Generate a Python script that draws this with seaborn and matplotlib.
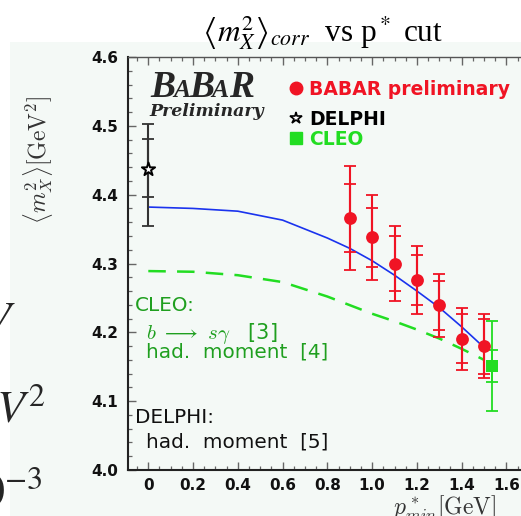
import matplotlib
matplotlib.use("Agg")
import matplotlib.pyplot as plt
import seaborn as sns
from matplotlib.patches import Rectangle
from matplotlib.lines import Line2D

# ---- measurements -------------------------------------------------------
# BABAR preliminary: corrected <m_X^2> versus minimum lepton momentum cut
babar_pcut = [0.9, 1.0, 1.1, 1.2, 1.3, 1.4, 1.5]
babar_mx2 = [4.366, 4.338, 4.300, 4.276, 4.239, 4.191, 4.180]
babar_err_stat = [0.050, 0.043, 0.040, 0.037, 0.035, 0.036, 0.040]
babar_err_tot = [0.075, 0.062, 0.054, 0.050, 0.046, 0.045, 0.046]

# DELPHI hadronic moment (asymmetric errors)
delphi_pcut = [0.0]
delphi_mx2 = [4.438]
delphi_err_stat_lo = [0.041]
delphi_err_stat_hi = [0.043]
delphi_err_tot_lo = [0.084]
delphi_err_tot_hi = [0.065]

# CLEO hadronic moment
cleo_pcut = [1.535]
cleo_mx2 = [4.151]
cleo_err_stat = [0.023]
cleo_err_tot = [0.066]

# HQE prediction from the fit (solid) and from CLEO b->s gamma + moments (dashed)
fit_pcut = [0.0, 0.2, 0.4, 0.6, 0.7, 0.8, 0.9, 1.0, 1.1, 1.2, 1.3, 1.4, 1.5]
fit_mx2 = [4.382, 4.380, 4.376, 4.363, 4.350, 4.337, 4.322, 4.304, 4.283,
           4.260, 4.236, 4.208, 4.178]
cleo_curve_pcut = [0.0, 0.2, 0.4, 0.6, 0.8, 1.0, 1.1, 1.2, 1.3, 1.4, 1.5]
cleo_curve_mx2 = [4.289, 4.288, 4.283, 4.273, 4.252, 4.227, 4.216, 4.204,
                  4.191, 4.176, 4.160]

x_ticks = [0.0, 0.2, 0.4, 0.6, 0.8, 1.0, 1.2, 1.4, 1.6]
x_tick_labels = ["0", "0.2", "0.4", "0.6", "0.8", "1.0", "1.2", "1.4", "1.6"]
y_ticks = [4.0, 4.1, 4.2, 4.3, 4.4, 4.5, 4.6]
y_tick_labels = ["4.0", "4.1", "4.2", "4.3", "4.4", "4.5", "4.6"]

# ---- style --------------------------------------------------------------
sns.set_style("ticks")
plt.rcParams["font.family"] = ["DejaVu Sans"]

RED = "#f01424"
GREEN = "#22dd22"
TEXT_GREEN = "#1f9f1f"
BLUE = "#1a33ee"
PANEL = "#f4f9f6"

W, H = 521, 516
fig = plt.figure(figsize=(W / 100, H / 100), dpi=100, facecolor="white")


def fx(px):
    return px / W


def fy(py):
    return 1 - py / H


# light slide panel behind the plot
fig.patches.append(Rectangle((fx(10), 0), 1, fy(42), transform=fig.transFigure,
                             facecolor=PANEL, edgecolor="none", zorder=-10))

ax = fig.add_axes([fx(128), fy(470), 1 - fx(128), fy(57) - fy(470)])
ax.set_facecolor("none")

# curves
sns.lineplot(x=fit_pcut, y=fit_mx2, ax=ax, color=BLUE, linewidth=1.2,
             sort=False, estimator=None, zorder=2)
sns.lineplot(x=cleo_curve_pcut, y=cleo_curve_mx2, ax=ax, color=GREEN,
             linewidth=1.8, linestyle=(0, (7, 4.5)), sort=False,
             estimator=None, zorder=2)

# error bars (outer: total, inner caps: statistical)
for err in (babar_err_tot, babar_err_stat):
    ax.errorbar(babar_pcut, babar_mx2, yerr=err, fmt="none", ecolor=RED,
                elinewidth=1.5, capsize=4, capthick=1.3, zorder=3)
for lo, hi in ((delphi_err_tot_lo, delphi_err_tot_hi),
               (delphi_err_stat_lo, delphi_err_stat_hi)):
    ax.errorbar(delphi_pcut, delphi_mx2, yerr=[lo, hi], fmt="none",
                ecolor="#333333", elinewidth=1.5, capsize=4, capthick=1.3,
                zorder=3)
for err in (cleo_err_tot, cleo_err_stat):
    ax.errorbar(cleo_pcut, cleo_mx2, yerr=err, fmt="none", ecolor=GREEN,
                elinewidth=1.3, capsize=4, capthick=1.3, zorder=3)

# markers
sns.scatterplot(x=babar_pcut, y=babar_mx2, ax=ax, color=RED, s=85,
                marker="o", linewidth=0, zorder=4)
sns.scatterplot(x=cleo_pcut, y=cleo_mx2, ax=ax, color=GREEN, s=80,
                marker="s", linewidth=0, zorder=4)
sns.scatterplot(x=delphi_pcut, y=delphi_mx2, ax=ax, color="white", s=100,
                marker="*", edgecolor="black", linewidth=1.4, zorder=4)

# axes
ax.set_xlim(-0.0907, 1.665)
ax.set_ylim(4.0, 4.6)
ax.set_xticks(x_ticks)
ax.set_xticklabels(x_tick_labels)
ax.set_yticks(y_ticks)
ax.set_yticklabels(y_tick_labels)
ax.set_xticks([v / 100 for v in range(-5, 166, 5)], minor=True)
ax.set_yticks([4.0 + v / 100 for v in range(0, 61, 2)], minor=True)
ax.tick_params(which="both", direction="in", top=True, right=False,
               color="#666666")
ax.tick_params(which="major", length=6, width=1)
ax.tick_params(which="minor", length=3, width=0.9)
ax.tick_params(axis="y", which="major", pad=7)
ax.tick_params(axis="x", which="major", pad=6)
for lab in ax.get_xticklabels() + ax.get_yticklabels():
    lab.set_fontweight("bold")
    lab.set_fontsize(11)
    lab.set_color("#111111")
for side in ("left", "bottom"):
    ax.spines[side].set_color("#222222")
    ax.spines[side].set_linewidth(1.5)
ax.spines["top"].set_color("#555555")
ax.spines["top"].set_linewidth(1)
ax.spines["right"].set_visible(False)

ax.set_ylabel(r"$\langle m_X^2\rangle[\mathrm{GeV}^2]$", fontsize=17,
              color="#333333", math_fontfamily="cm", va="center")
ax.yaxis.set_label_coords((38 - 128) / 393, (470 - 160) / 413)
ax.set_xlabel(r"$p^*_{min}[\mathrm{GeV}]$", fontsize=17, color="#333333",
              math_fontfamily="cm", va="baseline")
ax.xaxis.set_label_coords((445 - 128) / 393, -45 / 413)

# title
fig.text(fx(322), fy(42),
         r"$\left\langle m_X^2 \right\rangle_{corr}$  vs p$^*$ cut",
         fontsize=22.5, family="Liberation Serif", math_fontfamily="stix",
         ha="center", va="baseline", color="black")

# legends
leg1 = ax.legend(handles=[Line2D([], [], ls="none", marker="o", ms=9,
                                 mfc=RED, mec=RED)],
                 labels=["BABAR preliminary"], loc="upper left",
                 bbox_to_anchor=(fx(288.5), fy(80)),
                 bbox_transform=fig.transFigure, frameon=False,
                 borderpad=0, borderaxespad=0, handlelength=0.8,
                 handletextpad=0.3, labelcolor=[RED],
                 prop={"weight": "bold", "size": 13.5})
ax.add_artist(leg1)
ax.legend(handles=[Line2D([], [], ls="none", marker="*", ms=9, mfc="white",
                          mec="black", mew=1.2),
                   Line2D([], [], ls="none", marker="s", ms=8, mfc=GREEN,
                          mec=GREEN)],
          labels=["DELPHI", "CLEO"], loc="upper left",
          bbox_to_anchor=(fx(288.5), fy(110)), bbox_transform=fig.transFigure,
          frameon=False, borderpad=0, borderaxespad=0, handlelength=0.8,
          handletextpad=0.3, labelspacing=0.05,
          labelcolor=["black", GREEN], prop={"weight": "bold", "size": 13.5})

# BABAR logo
logo = [("B", 150, 27), ("A", 173, 18.5), ("B", 189, 27), ("A", 211, 18.5),
        ("R", 229, 27)]
for ch, px, size in logo:
    fig.text(fx(px), fy(97), ch, fontsize=size, family="Liberation Serif",
             weight="bold", style="italic", va="baseline", ha="left")
fig.text(fx(149), fy(116), "Preliminary", fontsize=12.5, family="DejaVu Serif",
         weight="bold", style="italic", va="baseline", ha="left")

# annotation blocks
ax.text((135 - 128) / 393, (470 - 311) / 413, "CLEO:", transform=ax.transAxes,
        fontsize=14.4, color=TEXT_GREEN, va="baseline")
ax.text((146 - 128) / 393, (470 - 339) / 413,
        r"$b\ \longrightarrow\ s\gamma$   [3]", transform=ax.transAxes,
        fontsize=15, color=TEXT_GREEN, math_fontfamily="cm", va="baseline")
ax.text((146 - 128) / 393, (470 - 358) / 413, "had.  moment  [4]",
        transform=ax.transAxes, fontsize=14.4, color=TEXT_GREEN, va="baseline")
ax.text((135 - 128) / 393, (470 - 423) / 413, "DELPHI:", transform=ax.transAxes,
        fontsize=14.4, color="#111111", va="baseline")
ax.text((146 - 128) / 393, (470 - 447) / 413, "had.  moment  [5]",
        transform=ax.transAxes, fontsize=14.4, color="#111111", va="baseline")

# slide text running in from the left edge
fig.text(fx(16), fy(333), r"$V$", fontsize=33, math_fontfamily="stix",
         ha="right", va="baseline")
fig.text(fx(46), fy(422), r"$V^2$", fontsize=33, math_fontfamily="stix",
         ha="right", va="baseline")
fig.text(fx(43), fy(505), r"$0^{-3}$", fontsize=33, math_fontfamily="stix",
         ha="right", va="baseline")

fig.savefig("out.png", dpi=100, facecolor="white")
